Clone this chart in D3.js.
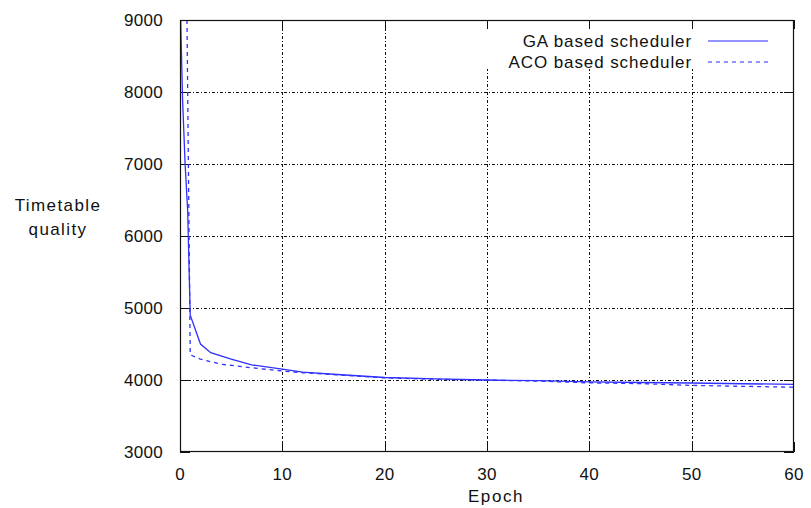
<!DOCTYPE html>
<html>
<head>
<meta charset="utf-8">
<script src="https://cdn.jsdelivr.net/npm/d3@7"></script>
<style>
body { margin: 0; background: #fff; }
text { font-family: "Liberation Sans", Arial, sans-serif; fill: #111; }
</style>
</head>
<body>
<script>
// epochs and timetable quality for both schedulers
var gaEpochs = [0, 0.25, 0.5, 0.75, 1, 2, 3, 5, 7, 10, 12, 15, 20, 25, 30, 35, 40, 45, 50, 55, 60];
var gaValues = [9400, 7900, 7000, 6350, 4900, 4500, 4380, 4290, 4210, 4150, 4110, 4080, 4035, 4015, 4000, 3990, 3975, 3965, 3958, 3948, 3940];

var acoEpochs = [0, 1, 2, 4, 7, 10, 12, 15, 20, 25, 30, 35, 40, 45, 50, 55, 60];
var acoValues = [19000, 4350, 4290, 4220, 4170, 4125, 4100, 4075, 4030, 4010, 3998, 3985, 3960, 3950, 3925, 3912, 3900];

var xTicks = [0, 10, 20, 30, 40, 50, 60];
var yTicks = [3000, 4000, 5000, 6000, 7000, 8000, 9000];
var seriesNames = ["GA based scheduler", "ACO based scheduler"];

var margin = {top: 20, right: 17, bottom: 56, left: 180},
    width = 811 - margin.left - margin.right,
    height = 508 - margin.top - margin.bottom;

var x = d3.scaleLinear().domain([0, 60]).range([0, width]);
var y = d3.scaleLinear().domain([3000, 9000]).range([height, 0]);

var svg = d3.select("body").append("svg")
    .attr("width", 811)
    .attr("height", 508)
  .append("g")
    .attr("transform", "translate(" + margin.left + "," + margin.top + ")");

svg.append("defs").append("clipPath").attr("id", "clip")
  .append("rect").attr("width", width).attr("height", height);

// dash-dot grid
var grid = svg.append("g").attr("stroke", "#111").attr("stroke-width", 1)
    .attr("stroke-dasharray", "3,2,1,2");
grid.selectAll(".vg").data(xTicks.slice(1, -1)).enter().append("line")
    .attr("x1", function(d) { return Math.round(x(d)) + 0.5; })
    .attr("x2", function(d) { return Math.round(x(d)) + 0.5; })
    .attr("y1", 0).attr("y2", height);
grid.selectAll(".hg").data(yTicks.slice(1, -1)).enter().append("line")
    .attr("y1", function(d) { return Math.round(y(d)) + 0.5; })
    .attr("y2", function(d) { return Math.round(y(d)) + 0.5; })
    .attr("x1", 0).attr("x2", width);

// key area hides the grid
svg.append("rect").attr("x", 300).attr("y", 9).attr("width", width - 302).attr("height", 40).attr("fill", "#fff");

// inward ticks on all sides
var tk = svg.append("g").attr("stroke", "#111").attr("stroke-width", 1);
xTicks.forEach(function(d) {
  var px = Math.round(x(d)) + 0.5;
  tk.append("line").attr("x1", px).attr("x2", px).attr("y1", height).attr("y2", height - 10);
  tk.append("line").attr("x1", px).attr("x2", px).attr("y1", 0).attr("y2", 9);
});
yTicks.forEach(function(d) {
  var py = Math.round(y(d)) + 0.5;
  tk.append("line").attr("y1", py).attr("y2", py).attr("x1", 0).attr("x2", 10);
  tk.append("line").attr("y1", py).attr("y2", py).attr("x1", width).attr("x2", width - 10);
});

// lines
var line = d3.line().x(function(d) { return x(d[0]); }).y(function(d) { return y(d[1]); });
var plot = svg.append("g").attr("clip-path", "url(#clip)");
plot.append("path").datum(d3.zip(gaEpochs, gaValues))
    .attr("d", line).attr("fill", "none").attr("stroke", "#3030ff").attr("stroke-width", 1.3);
plot.append("path").datum(d3.zip(acoEpochs, acoValues))
    .attr("d", line).attr("fill", "none").attr("stroke", "#3030ff").attr("stroke-width", 1.3)
    .attr("stroke-dasharray", "4,4");

// frame
svg.append("rect").attr("x", 0.5).attr("y", 0.5).attr("width", width - 1).attr("height", height - 1)
    .attr("fill", "none").attr("stroke", "#111").attr("stroke-width", 1.2);

// axes labels
svg.selectAll(".xl").data(xTicks).enter().append("text")
    .attr("x", function(d) { return x(d); }).attr("y", height + 28)
    .attr("text-anchor", "middle").style("font-size", "17px").style("letter-spacing", "0.3px")
    .text(function(d) { return d; });
svg.selectAll(".yl").data(yTicks).enter().append("text")
    .attr("x", -17).attr("y", function(d) { return y(d) + 6; })
    .attr("text-anchor", "end").style("font-size", "17px").style("letter-spacing", "0.3px")
    .text(function(d) { return d; });

svg.append("text").attr("x", x(30) + 9).attr("y", height + 50)
    .attr("text-anchor", "middle").style("font-size", "17px").style("letter-spacing", "1.6px")
    .text("Epoch");
var yl = svg.append("text").attr("text-anchor", "middle").style("font-size", "17px").style("letter-spacing", "1.4px");
yl.append("tspan").attr("x", -122).attr("y", 191).text("Timetable");
yl.append("tspan").attr("x", -122).attr("y", 215).text("quality");

// key
var key = svg.append("g");
seriesNames.forEach(function(name, i) {
  var ky = 21 + i * 21;
  key.append("text").attr("x", 512).attr("y", ky + 6).attr("text-anchor", "end")
      .style("font-size", "17px").style("letter-spacing", "0.9px").text(name);
  key.append("line").attr("x1", 528).attr("x2", 588).attr("y1", ky).attr("y2", ky)
      .attr("stroke", "#7070ff").attr("stroke-width", 1.3)
      .attr("stroke-dasharray", i ? "4,4" : null);
});
</script>
</body>
</html>
